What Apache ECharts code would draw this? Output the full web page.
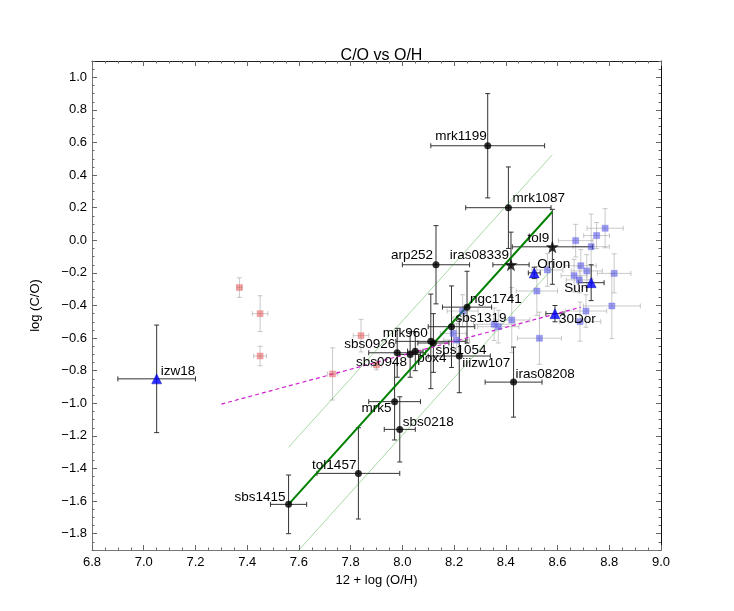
<!DOCTYPE html>
<html><head><meta charset="utf-8">
<script src="https://cdn.jsdelivr.net/npm/echarts@6/dist/echarts.min.js"></script>
<style>html,body{margin:0;padding:0;background:#fff}#c{width:734px;height:611px}</style>
</head><body><div id="c"></div>
<script>
// ---------------- tick labels ----------------
const xTicks = [6.8,7.0,7.2,7.4,7.6,7.8,8.0,8.2,8.4,8.6,8.8,9.0];
const yTicks = [-1.8,-1.6,-1.4,-1.2,-1.0,-0.8,-0.6,-0.4,-0.2,0.0,0.2,0.4,0.6,0.8,1.0];

// ---------------- named galaxies: filled circles ----------------
const circNames = ['mrk1199','mrk1087','arp252','ngc1741','sbs1319','mrk960','sbs1054','sbs0926','sbs0948','pox4','iiizw107','iras08208','mrk5','sbs0218','tol1457','sbs1415'];
const circX    = [8.33, 8.41, 8.13, 8.25, 8.19, 8.11, 8.12, 7.98, 8.03, 8.05, 8.22, 8.43, 7.97, 7.99, 7.83, 7.56];
const circY    = [0.58, 0.20,-0.15,-0.41,-0.53,-0.62,-0.63,-0.69,-0.70,-0.68,-0.71,-0.87,-0.99,-1.16,-1.43,-1.62];
const circXErr = [0.22, 0.165,0.13, 0.095,0.09, 0.135,0.06, 0.11, 0.04, 0.03, 0.12, 0.11, 0.10, 0.06, 0.16, 0.07];
const circYErr = [0.32, 0.25, 0.24, 0.22, 0.25, 0.29, 0.18, 0.15, 0.14, 0.12, 0.225,0.215,0.235,0.20, 0.28, 0.18];

// ---------------- named galaxies: stars ----------------
const starNames = ['tol9','iras08339'];
const starX    = [8.58, 8.42];
const starY    = [-0.04,-0.15];
const starXErr = [0.155,0.07];
const starYErr = [0.23, 0.20];

// ---------------- reference objects: triangles ----------------
const triNames = ['Orion','Sun','30Dor','izw18'];
const triX    = [8.51, 8.73, 8.59, 7.05];
const triY    = [-0.20,-0.26,-0.45,-0.85];
const triXErr = [0.023,0.05, 0.035,0.15];
const triYErr = [0.035,0.11, 0.05, 0.33];

// ---------------- blue comparison sample ----------------
const blueX    = [8.233,8.197,8.21,8.355,8.371,8.423,8.52,8.53,8.561,8.67,8.751,8.784,8.73,8.69,8.664,8.713,8.684,8.819,8.71,8.81,8.687];
const blueY    = [-0.434,-0.571,-0.612,-0.515,-0.53,-0.489,-0.311,-0.601,-0.182,-0.002,0.029,0.074,-0.039,-0.156,-0.217,-0.188,-0.243,-0.203,-0.434,-0.403,-0.499];
const blueXErr = [0.06,0.05,0.05,0.08,0.08,0.07,0.08,0.085,0.06,0.067,0.05,0.07,0.07,0.06,0.05,0.06,0.05,0.065,0.08,0.11,0.08];
const blueYErr = [0.10,0.10,0.10,0.10,0.10,0.20,0.15,0.16,0.10,0.10,0.08,0.12,0.20,0.10,0.10,0.10,0.08,0.12,0.10,0.20,0.12];

// ---------------- red comparison sample ----------------
const redX    = [7.37, 7.45, 7.45, 7.73, 7.84, 7.90];
const redY    = [-0.29,-0.45,-0.71,-0.82,-0.585,-0.765];
const redXErr = [0.01, 0.03, 0.025,0.02, 0.03, 0.02];
const redYErr = [0.06, 0.11, 0.06, 0.16, 0.10, 0.03];

// ---------------- fitted lines ----------------
const fitX = [7.56, 8.58];
const fitY = [-1.62, 0.175];
const fitBand = 0.35;
const magX = [7.30, 8.69];
const magY = [-1.005, -0.41];

// ---------------- label placement (style) ----------------
// [horizontal align, vertical align, dx, dy]
const labelPlace = {
  mrk1199:['right','bottom',-1,-2], mrk1087:['left','bottom',4,-2], arp252:['right','bottom',-3,-2],
  ngc1741:['left','bottom',3,-1], sbs1319:['left','bottom',4,-1], mrk960:['right','bottom',-3,-1],
  sbs1054:['left','top',2,0], sbs0926:['right','bottom',-2,-1], sbs0948:['right','top',-3,1],
  pox4:['left','top',2,0], iiizw107:['left','top',3,0], iras08208:['left','bottom',2,-1],
  mrk5:['right','top',-3,0], sbs0218:['left','bottom',3,0], tol1457:['right','bottom',-2,-1],
  sbs1415:['right','bottom',-3,0], tol9:['right','bottom',-3,-2], iras08339:['right','bottom',-2,-2],
  Orion:['left','bottom',3,-2], Sun:['right','top',-3,-1], '30Dor':['left','top',4,-1], izw18:['left','bottom',4,-1]
};

const FONT = '"Liberation Sans", Arial, Helvetica, sans-serif';

function zip(xs, ys, xe, ye){ return xs.map((x,i)=>[x, ys[i], xe[i], ye[i]]); }
function errSeries(data, color, z){
  return {
    type:'custom', z:z, silent:true, clip:true,
    data:data, encode:{x:0,y:1},
    renderItem:function(params, api){
      const x=api.value(0), y=api.value(1), xe=api.value(2), ye=api.value(3);
      const l=api.coord([x-xe,y]), r=api.coord([x+xe,y]);
      const t=api.coord([x,y+ye]), b=api.coord([x,y-ye]);
      const cap=2.5;
      const st={stroke:color, lineWidth:1};
      const ln=(x1,y1,x2,y2)=>({type:'line', shape:{x1,y1,x2,y2}, style:st});
      return {type:'group', children:[
        ln(l[0],l[1],r[0],r[1]),
        ln(l[0],l[1]-cap,l[0],l[1]+cap),
        ln(r[0],r[1]-cap,r[0],r[1]+cap),
        ln(t[0],t[1],b[0],b[1]),
        ln(t[0]-cap,t[1],t[0]+cap,t[1]),
        ln(b[0]-cap,b[1],b[0]+cap,b[1])
      ]};
    }
  };
}
function pts(xs, ys){ return xs.map((x,i)=>[x, ys[i]]); }

const allNames = circNames.concat(starNames, triNames);
const allX = circX.concat(starX, triX);
const allY = circY.concat(starY, triY);

const xMinor = [], yMinor = [];
for (let k=0; k<=44; k++) xMinor.push(+(6.8 + k*0.05).toFixed(2));
for (let k=0; k<=60; k++) yMinor.push(+(-1.9 + k*0.05).toFixed(2));

const fmt = v => (Math.abs(v)<1e-9 ? '0.0' : v.toFixed(1)).replace('-', '\u2212');

function xAx(pos, major, showLine, showLabel, name){
  return {
    type:'value', min:6.8, max:9.0, position:pos, offset:0,
    axisLine:{show:showLine, onZero:false, lineStyle:{color: pos==='top' ? '#222' : '#777', width:1}},
    axisTick:{show:true, inside:true, length: major?5:2.5, customValues: major?xTicks:xMinor, lineStyle:{color:'#666'}},
    axisLabel:{show:showLabel, customValues:xTicks, formatter:fmt, color:'#000', fontSize:13, fontFamily:FONT, margin:6},
    splitLine:{show:false},
    name: name||'', nameLocation:'middle', nameGap:22,
    nameTextStyle:{color:'#000', fontSize:13, fontFamily:FONT}
  };
}
function yAx(pos, major, showLine, showLabel, name){
  return {
    type:'value', min:-1.9, max:1.1, position:pos, offset:0,
    axisLine:{show:showLine, onZero:false, lineStyle:{color: pos==='right' ? '#111' : '#777', width:1}},
    axisTick:{show:true, inside:true, length: major?5:2.5, customValues: major?yTicks:yMinor, lineStyle:{color:'#666'}},
    axisLabel:{show:showLabel, customValues:yTicks, formatter:fmt, color:'#000', fontSize:13, fontFamily:FONT, margin:5},
    splitLine:{show:false},
    name: name||'', nameLocation:'middle', nameGap:50,
    nameTextStyle:{color:'#000', fontSize:13, fontFamily:FONT}
  };
}

const STAR = 'path://M0,-10 L2.35,-3.24 9.51,-3.09 3.8,1.24 5.88,8.09 0,4 -5.88,8.09 -3.8,1.24 -9.51,-3.09 -2.35,-3.24 Z';

const chart = echarts.init(document.getElementById('c'), null, {renderer:'canvas'});
chart.setOption({
  animation:false,
  backgroundColor:'#fff',
  title:{text:'C/O vs O/H', left:376.5, textAlign:'center', top:43,
    textStyle:{fontSize:16, fontWeight:'normal', color:'#000', fontFamily:FONT}},
  grid:{left:92, right:73, top:61, bottom:61, containLabel:false},
  xAxis:[
    xAx('bottom', true, true, true, '12 + log (O/H)'),
    xAx('bottom', false, false, false),
    xAx('top', true, true, false),
    xAx('top', false, false, false)
  ],
  yAxis:[
    yAx('left', true, true, true, 'log (C/O)'),
    yAx('left', false, false, false),
    yAx('right', true, true, false),
    yAx('right', false, false, false)
  ],
  series:[
    errSeries(zip(redX, redY, redXErr, redYErr), 'rgba(150,150,150,0.5)', 1),
    errSeries(zip(blueX, blueY, blueXErr, blueYErr), 'rgba(150,150,150,0.5)', 1),
    errSeries(zip(circX, circY, circXErr, circYErr), '#333', 2),
    errSeries(zip(starX, starY, starXErr, starYErr), '#333', 2),
    errSeries(zip(triX, triY, triXErr, triYErr), '#333', 2),
    {type:'line', z:3, data:pts(fitX, fitY.map(v=>v+fitBand)), symbol:'none', silent:true, clip:true,
      lineStyle:{color:'rgba(0,150,0,0.35)', width:1}},
    {type:'line', z:3, data:pts(fitX, fitY.map(v=>v-fitBand)), symbol:'none', silent:true, clip:true,
      lineStyle:{color:'rgba(0,150,0,0.35)', width:1}},
    {type:'line', z:3, data:pts(fitX, fitY), symbol:'none', silent:true, clip:true,
      lineStyle:{color:'#008000', width:2}},
    {type:'line', z:3, data:pts(magX, magY), symbol:'none', silent:true, clip:true,
      lineStyle:{color:'#d020d0', width:1.2, type:[4,3]}},
    {type:'scatter', z:4, data:pts(redX, redY), symbol:'rect', symbolSize:6, silent:true,
      itemStyle:{color:'rgba(235,70,70,0.6)', borderColor:'rgba(235,120,120,0.45)', borderWidth:1}},
    {type:'scatter', z:4, data:pts(blueX, blueY), symbol:'rect', symbolSize:6, silent:true,
      itemStyle:{color:'rgba(80,80,230,0.7)', borderColor:'rgba(110,110,235,0.5)', borderWidth:1}},
    {type:'scatter', z:5, data:pts(circX, circY), symbol:'circle', symbolSize:7, silent:true,
      itemStyle:{color:'#000'}},
    {type:'scatter', z:5, data:pts(starX, starY), symbol:STAR, symbolSize:13, silent:true,
      itemStyle:{color:'#000'}},
    {type:'scatter', z:5, data:pts(triX, triY), symbol:'triangle', symbolSize:10, silent:true,
      itemStyle:{color:'#0000ff', borderColor:'#0000aa', borderWidth:0.5}},
    {type:'custom', z:6, silent:true, clip:false,
      data: allX.map((x,i)=>[x, allY[i], i]), encode:{x:0,y:1},
      renderItem:function(params, api){
        const i = api.value(2);
        const nm = allNames[i];
        const p = labelPlace[nm] || ['left','bottom',3,-2];
        const c = api.coord([api.value(0), api.value(1)]);
        return {type:'text', style:{text:nm, x:c[0]+p[2], y:c[1]+p[3], align:p[0], verticalAlign:p[1],
          fill:'#000', font:'13.5px ' + FONT}};
      }}
  ]
});
</script></body></html>
